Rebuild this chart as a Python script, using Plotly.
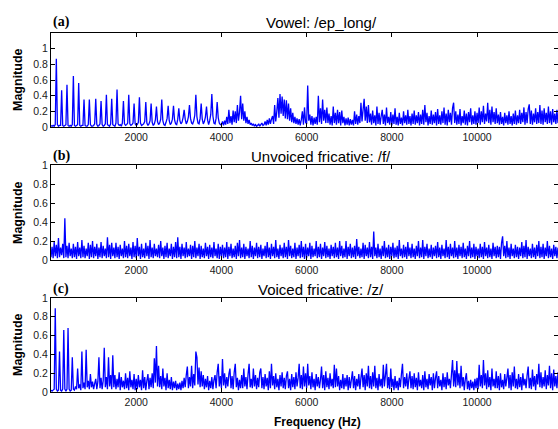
import plotly.graph_objects as go

# Magnitude spectra sampled every 25 Hz from 0 to 11900 Hz
FREQ_STEP_HZ = 25

vowel_ep_long = [
    0.02, 0.01, 0.02, 0.01, 0.03, 0.87, 0.03, 0.01, 0.02, 0.02, 0.47, 0.02, 0.01, 0.02, 0.03, 0.54, 0.02, 0.01, 0.02, 0.01,
    0.03, 0.65, 0.02, 0.01, 0.02, 0.03, 0.56, 0.02, 0.01, 0.02, 0.02, 0.35, 0.02, 0.01, 0.01, 0.03, 0.35, 0.03, 0.01, 0.01,
    0.02, 0.04, 0.36, 0.03, 0.01, 0.02, 0.04, 0.33, 0.03, 0.01, 0.02, 0.04, 0.41, 0.03, 0.02, 0.01, 0.04, 0.36, 0.03, 0.02,
    0.01, 0.05, 0.48, 0.04, 0.02, 0.03, 0.01, 0.05, 0.33, 0.04, 0.02, 0.03, 0.05, 0.41, 0.04, 0.02, 0.03, 0.05, 0.30, 0.04,
    0.02, 0.03, 0.06, 0.38, 0.05, 0.02, 0.03, 0.04, 0.07, 0.32, 0.05, 0.02, 0.04, 0.08, 0.30, 0.06, 0.02, 0.04, 0.09, 0.26,
    0.07, 0.03, 0.05, 0.10, 0.35, 0.08, 0.03, 0.02, 0.06, 0.11, 0.27, 0.08, 0.03, 0.05, 0.10, 0.27, 0.09, 0.04, 0.03, 0.10,
    0.24, 0.08, 0.04, 0.06, 0.12, 0.22, 0.10, 0.04, 0.07, 0.13, 0.28, 0.11, 0.05, 0.04, 0.08, 0.15, 0.41, 0.13, 0.05, 0.04,
    0.11, 0.30, 0.10, 0.04, 0.07, 0.13, 0.26, 0.09, 0.03, 0.08, 0.16, 0.42, 0.14, 0.05, 0.04, 0.11, 0.32, 0.12, 0.05, 0.03,
    0.03, 0.07, 0.02, 0.08, 0.03, 0.13, 0.04, 0.22, 0.05, 0.14, 0.03, 0.21, 0.06, 0.20, 0.05, 0.28, 0.08, 0.19, 0.40, 0.10,
    0.30, 0.08, 0.20, 0.05, 0.13, 0.04, 0.09, 0.03, 0.05, 0.02, 0.04, 0.01, 0.03, 0.01, 0.02, 0.04, 0.01, 0.03, 0.05, 0.02,
    0.03, 0.07, 0.02, 0.09, 0.03, 0.11, 0.04, 0.10, 0.14, 0.04, 0.28, 0.07, 0.20, 0.37, 0.12, 0.42, 0.17, 0.39, 0.14, 0.35,
    0.11, 0.34, 0.10, 0.30, 0.08, 0.24, 0.06, 0.18, 0.05, 0.13, 0.04, 0.11, 0.03, 0.10, 0.02, 0.09, 0.20, 0.03, 0.25, 0.06,
    0.04, 0.53, 0.08, 0.16, 0.03, 0.14, 0.02, 0.12, 0.04, 0.13, 0.03, 0.40, 0.06, 0.24, 0.04, 0.35, 0.08, 0.22, 0.05, 0.25,
    0.05, 0.17, 0.03, 0.14, 0.02, 0.26, 0.05, 0.18, 0.03, 0.22, 0.05, 0.19, 0.02, 0.21, 0.05, 0.13, 0.02, 0.11, 0.03, 0.12,
    0.02, 0.10, 0.03, 0.09, 0.02, 0.20, 0.04, 0.16, 0.03, 0.14, 0.05, 0.31, 0.07, 0.22, 0.36, 0.08, 0.26, 0.05, 0.28, 0.06,
    0.17, 0.03, 0.21, 0.05, 0.15, 0.02, 0.26, 0.04, 0.18, 0.03, 0.14, 0.22, 0.04, 0.16, 0.02, 0.25, 0.05, 0.13, 0.03, 0.19,
    0.02, 0.16, 0.04, 0.24, 0.03, 0.13, 0.02, 0.18, 0.04, 0.12, 0.02, 0.20, 0.05, 0.15, 0.03, 0.22, 0.04, 0.14, 0.02, 0.17,
    0.04, 0.21, 0.03, 0.15, 0.05, 0.19, 0.02, 0.16, 0.04, 0.22, 0.03, 0.28, 0.06, 0.18, 0.02, 0.14, 0.04, 0.21, 0.03, 0.16,
    0.05, 0.19, 0.02, 0.23, 0.04, 0.15, 0.03, 0.20, 0.05, 0.25, 0.03, 0.17, 0.02, 0.22, 0.06, 0.18, 0.03, 0.24, 0.31, 0.05,
    0.20, 0.03, 0.16, 0.04, 0.23, 0.02, 0.14, 0.05, 0.21, 0.03, 0.17, 0.02, 0.19, 0.06, 0.24, 0.03, 0.15, 0.04, 0.20, 0.03,
    0.18, 0.05, 0.25, 0.03, 0.20, 0.06, 0.27, 0.04, 0.17, 0.07, 0.31, 0.05, 0.22, 0.03, 0.26, 0.06, 0.19, 0.04, 0.24, 0.05,
    0.16, 0.03, 0.19, 0.04, 0.13, 0.02, 0.18, 0.05, 0.15, 0.03, 0.20, 0.04, 0.14, 0.02, 0.17, 0.04, 0.21, 0.03, 0.15, 0.05,
    0.22, 0.04, 0.18, 0.06, 0.25, 0.03, 0.19, 0.05, 0.23, 0.29, 0.04, 0.21, 0.03, 0.17, 0.06, 0.24, 0.04, 0.19, 0.05, 0.28,
    0.04, 0.21, 0.03, 0.24, 0.06, 0.18, 0.04, 0.26, 0.05, 0.20, 0.03, 0.23, 0.06, 0.17, 0.04, 0.22, 0.05,
]

unvoiced_f = [
    0.03, 0.14, 0.02, 0.19, 0.04, 0.16, 0.02, 0.23, 0.03, 0.13, 0.05, 0.17, 0.02, 0.44, 0.03, 0.15, 0.02, 0.18, 0.04, 0.12,
    0.02, 0.17, 0.03, 0.14, 0.01, 0.19, 0.04, 0.13, 0.02, 0.21, 0.03, 0.15, 0.02, 0.12, 0.04, 0.18, 0.01, 0.16, 0.03, 0.20,
    0.02, 0.14, 0.04, 0.17, 0.01, 0.13, 0.03, 0.19, 0.02, 0.15, 0.04, 0.12, 0.02, 0.24, 0.03, 0.16, 0.01, 0.18, 0.04, 0.13,
    0.02, 0.18, 0.03, 0.14, 0.01, 0.16, 0.04, 0.12, 0.02, 0.20, 0.03, 0.15, 0.02, 0.17, 0.04, 0.13, 0.01, 0.19, 0.03, 0.15,
    0.02, 0.23, 0.04, 0.14, 0.01, 0.17, 0.03, 0.12, 0.02, 0.18, 0.04, 0.15, 0.01, 0.21, 0.03, 0.13, 0.02, 0.17, 0.04, 0.12,
    0.03, 0.16, 0.02, 0.20, 0.04, 0.13, 0.01, 0.15, 0.03, 0.18, 0.02, 0.12, 0.04, 0.17, 0.01, 0.14, 0.03, 0.19, 0.02, 0.24,
    0.03, 0.14, 0.01, 0.17, 0.04, 0.13, 0.02, 0.19, 0.03, 0.12, 0.04, 0.16, 0.01, 0.15, 0.03, 0.20, 0.02, 0.13, 0.04, 0.17,
    0.01, 0.15, 0.03, 0.12, 0.02, 0.18, 0.04, 0.14, 0.01, 0.16, 0.03, 0.13, 0.02, 0.19, 0.04, 0.12, 0.02, 0.17, 0.01, 0.14,
    0.04, 0.16, 0.02, 0.13, 0.03, 0.19, 0.01, 0.14, 0.04, 0.17, 0.02, 0.12, 0.03, 0.15, 0.01, 0.18, 0.04, 0.21, 0.02, 0.13,
    0.03, 0.17, 0.01, 0.14, 0.04, 0.12, 0.02, 0.20, 0.03, 0.15, 0.01, 0.13, 0.04, 0.18, 0.02, 0.14, 0.03, 0.16, 0.01, 0.12,
    0.04, 0.15, 0.02, 0.19, 0.03, 0.13, 0.01, 0.17, 0.04, 0.14, 0.02, 0.21, 0.03, 0.12, 0.01, 0.16, 0.04, 0.13, 0.02, 0.18,
    0.03, 0.14, 0.01, 0.21, 0.04, 0.15, 0.02, 0.12, 0.03, 0.18, 0.01, 0.13, 0.04, 0.16, 0.02, 0.20, 0.03, 0.14, 0.01, 0.17,
    0.02, 0.13, 0.04, 0.18, 0.01, 0.15, 0.03, 0.12, 0.04, 0.20, 0.02, 0.14, 0.03, 0.17, 0.01, 0.13, 0.04, 0.19, 0.02, 0.15,
    0.03, 0.12, 0.01, 0.16, 0.04, 0.14, 0.02, 0.18, 0.03, 0.13, 0.01, 0.20, 0.04, 0.15, 0.02, 0.12, 0.03, 0.20, 0.01, 0.14,
    0.04, 0.17, 0.02, 0.13, 0.03, 0.15, 0.01, 0.22, 0.04, 0.14, 0.02, 0.12, 0.03, 0.18, 0.01, 0.16, 0.04, 0.13, 0.02, 0.19,
    0.03, 0.14, 0.01, 0.30, 0.04, 0.13, 0.02, 0.17, 0.03, 0.12, 0.01, 0.15, 0.04, 0.20, 0.02, 0.13, 0.03, 0.16, 0.01, 0.14,
    0.04, 0.18, 0.02, 0.13, 0.03, 0.15, 0.01, 0.21, 0.04, 0.12, 0.02, 0.16, 0.03, 0.14, 0.01, 0.19, 0.04, 0.13, 0.02, 0.17,
    0.03, 0.12, 0.01, 0.15, 0.04, 0.20, 0.02, 0.13, 0.03, 0.21, 0.01, 0.14, 0.04, 0.17, 0.02, 0.12, 0.03, 0.16, 0.01, 0.13,
    0.04, 0.15, 0.02, 0.19, 0.03, 0.13, 0.01, 0.16, 0.04, 0.12, 0.02, 0.21, 0.03, 0.14, 0.01, 0.17, 0.04, 0.13, 0.02, 0.20,
    0.03, 0.13, 0.01, 0.16, 0.04, 0.14, 0.02, 0.18, 0.03, 0.12, 0.01, 0.15, 0.04, 0.20, 0.02, 0.13, 0.03, 0.17, 0.01, 0.14,
    0.04, 0.12, 0.02, 0.17, 0.03, 0.14, 0.01, 0.19, 0.04, 0.13, 0.02, 0.16, 0.03, 0.12, 0.01, 0.18, 0.04, 0.14, 0.02, 0.15,
    0.03, 0.14, 0.01, 0.18, 0.25, 0.04, 0.15, 0.02, 0.20, 0.03, 0.13, 0.01, 0.17, 0.04, 0.12, 0.02, 0.16, 0.03, 0.14, 0.01,
    0.13, 0.04, 0.19, 0.02, 0.15, 0.03, 0.21, 0.01, 0.14, 0.04, 0.12, 0.02, 0.17, 0.03, 0.13, 0.01, 0.16, 0.04, 0.20, 0.02,
    0.14, 0.03, 0.17, 0.01, 0.13, 0.04, 0.20, 0.02, 0.15, 0.03, 0.12, 0.01, 0.16, 0.04, 0.14, 0.02, 0.13,
]

voiced_z = [
    0.02, 0.01, 0.02, 0.03, 0.89, 0.03, 0.01, 0.02, 0.43, 0.02, 0.01, 0.03, 0.66, 0.03, 0.01, 0.03, 0.68, 0.03, 0.01, 0.02,
    0.37, 0.03, 0.02, 0.06, 0.03, 0.25, 0.04, 0.08, 0.02, 0.43, 0.04, 0.10, 0.03, 0.45, 0.05, 0.12, 0.03, 0.19, 0.05, 0.11,
    0.03, 0.09, 0.14, 0.03, 0.11, 0.37, 0.04, 0.15, 0.03, 0.12, 0.47, 0.05, 0.16, 0.03, 0.37, 0.06, 0.18, 0.03, 0.39, 0.05,
    0.18, 0.03, 0.14, 0.05, 0.21, 0.02, 0.16, 0.05, 0.12, 0.03, 0.20, 0.04, 0.15, 0.02, 0.22, 0.05, 0.13, 0.03, 0.19, 0.02,
    0.14, 0.03, 0.18, 0.05, 0.13, 0.02, 0.23, 0.04, 0.16, 0.02, 0.12, 0.19, 0.03, 0.15, 0.05, 0.20, 0.04, 0.36, 0.10, 0.49,
    0.06, 0.28, 0.05, 0.17, 0.03, 0.25, 0.06, 0.15, 0.02, 0.20, 0.04, 0.13, 0.03, 0.16, 0.02, 0.11, 0.04, 0.12, 0.02, 0.09,
    0.03, 0.10, 0.02, 0.12, 0.04, 0.15, 0.05, 0.18, 0.27, 0.04, 0.16, 0.06, 0.28, 0.04, 0.19, 0.07, 0.43, 0.37, 0.08, 0.26,
    0.05, 0.22, 0.06, 0.18, 0.03, 0.14, 0.05, 0.17, 0.02, 0.12, 0.04, 0.16, 0.03, 0.13, 0.18, 0.04, 0.21, 0.30, 0.06, 0.17,
    0.04, 0.35, 0.07, 0.20, 0.04, 0.16, 0.06, 0.19, 0.25, 0.04, 0.17, 0.03, 0.21, 0.30, 0.05, 0.15, 0.02, 0.13, 0.04, 0.18,
    0.04, 0.25, 0.06, 0.16, 0.03, 0.19, 0.30, 0.05, 0.14, 0.04, 0.25, 0.06, 0.18, 0.03, 0.15, 0.05, 0.21, 0.25, 0.04, 0.16,
    0.03, 0.19, 0.06, 0.15, 0.02, 0.22, 0.04, 0.30, 0.07, 0.17, 0.03, 0.20, 0.05, 0.14, 0.02, 0.18, 0.06, 0.21, 0.04, 0.15,
    0.03, 0.17, 0.22, 0.04, 0.14, 0.02, 0.19, 0.05, 0.16, 0.03, 0.21, 0.06, 0.15, 0.30, 0.04, 0.18, 0.03, 0.27, 0.06, 0.20,
    0.04, 0.30, 0.07, 0.17, 0.03, 0.21, 0.05, 0.14, 0.02, 0.19, 0.06, 0.16, 0.04, 0.13, 0.27, 0.04, 0.18, 0.02, 0.22, 0.05,
    0.15, 0.03, 0.20, 0.06, 0.14, 0.04, 0.29, 0.05, 0.25, 0.06, 0.17, 0.02, 0.13, 0.04, 0.19, 0.03, 0.15, 0.06, 0.18, 0.02,
    0.16, 0.04, 0.13, 0.22, 0.04, 0.17, 0.02, 0.14, 0.06, 0.19, 0.03, 0.15, 0.25, 0.05, 0.18, 0.02, 0.20, 0.06, 0.28, 0.04,
    0.17, 0.03, 0.21, 0.06, 0.28, 0.04, 0.15, 0.02, 0.19, 0.06, 0.14, 0.04, 0.29, 0.06, 0.18, 0.30, 0.04, 0.16, 0.03, 0.25,
    0.05, 0.14, 0.02, 0.17, 0.04, 0.12, 0.02, 0.15, 0.05, 0.19, 0.30, 0.04, 0.16, 0.06, 0.20, 0.03, 0.14, 0.22, 0.04, 0.17,
    0.03, 0.20, 0.05, 0.15, 0.02, 0.21, 0.06, 0.13, 0.04, 0.18, 0.02, 0.22, 0.05, 0.14, 0.03, 0.19, 0.07, 0.16, 0.02, 0.20,
    0.04, 0.15, 0.22, 0.04, 0.17, 0.06, 0.13, 0.02, 0.20, 0.05, 0.16, 0.03, 0.21, 0.07, 0.14, 0.04, 0.19, 0.34, 0.06, 0.23,
    0.05, 0.33, 0.07, 0.20, 0.04, 0.28, 0.06, 0.16, 0.02, 0.14, 0.20, 0.03, 0.12, 0.02, 0.13, 0.04, 0.11, 0.02, 0.14, 0.04,
    0.15, 0.03, 0.29, 0.06, 0.18, 0.04, 0.34, 0.07, 0.20, 0.03, 0.23, 0.05, 0.16, 0.02, 0.25, 0.06, 0.14, 0.04, 0.22, 0.04,
    0.17, 0.02, 0.20, 0.05, 0.13, 0.03, 0.19, 0.06, 0.15, 0.25, 0.04, 0.18, 0.02, 0.21, 0.06, 0.27, 0.04, 0.14, 0.03, 0.19,
    0.05, 0.16, 0.02, 0.20, 0.07, 0.14, 0.04, 0.18, 0.27, 0.04, 0.15, 0.03, 0.24, 0.06, 0.17, 0.02, 0.19, 0.08, 0.30, 0.05,
    0.21, 0.04, 0.16, 0.06, 0.23, 0.03, 0.18, 0.07, 0.28, 0.04, 0.20, 0.02, 0.24, 0.06, 0.17, 0.04, 0.21,
]

panel_tags = ["(a)", "(b)", "(c)"]
panel_titles = ["Vowel: /ep_long/", "Unvoiced fricative: /f/", "Voiced fricative: /z/"]
panel_series = [vowel_ep_long, unvoiced_f, voiced_z]
panel_ymax = [1.2, 1.0, 1.0]

x_tick_vals = [2000, 4000, 6000, 8000, 10000]
y_tick_vals = [0, 0.2, 0.4, 0.6, 0.8, 1]
x_max_hz = 11900

W, H = 558, 429
LEFT, RIGHT = 51, 558
# (top, bottom) pixel rows of each panel's plotting box
panel_rows = [(33, 127), (165, 260), (298, 392)]
title_rows = [22, 156, 289]
ylabel_rows = [80, 213, 345]


def px_x(p):
    return p / W


def px_y(p):
    return 1 - p / H


SANS = "Liberation Sans, Arial, Helvetica, sans-serif"
SERIF = "Liberation Serif, Times New Roman, serif"
INK = "#1a1a1a"

fig = go.Figure()
annotations = []

for i, (mags, ymax) in enumerate(zip(panel_series, panel_ymax)):
    n = i + 1
    xa = "x" if n == 1 else f"x{n}"
    ya = "y" if n == 1 else f"y{n}"
    freqs = [k * FREQ_STEP_HZ for k in range(len(mags))]
    fig.add_trace(go.Scatter(
        x=freqs, y=mags, mode="lines",
        line=dict(color="#0000ff", width=1.3, simplify=False),
        xaxis=xa, yaxis=ya, showlegend=False, hoverinfo="skip",
    ))
    top, bottom = panel_rows[i]
    axis_common = dict(
        showline=True, linecolor="black", linewidth=1.2, mirror="ticks",
        ticks="inside", ticklen=4, tickwidth=1, tickcolor="black",
        showgrid=False, zeroline=False,
        tickfont=dict(family=SANS, size=10.5, color=INK),
        automargin=False,
    )
    fig.layout[("xaxis" if n == 1 else f"xaxis{n}")] = dict(
        domain=[px_x(LEFT), px_x(RIGHT)], range=[0, x_max_hz],
        anchor=ya, tickvals=x_tick_vals, ticktext=[str(v) for v in x_tick_vals],
        **axis_common,
    )
    fig.layout[("yaxis" if n == 1 else f"yaxis{n}")] = dict(
        domain=[px_y(bottom), px_y(top)], range=[0, ymax],
        anchor=xa, tickvals=y_tick_vals, ticktext=["0", "0.2", "0.4", "0.6", "0.8", "1"],
        **axis_common,
    )

    annotations.append(dict(
        text=f"<b>{panel_tags[i]}</b>", x=px_x(LEFT), y=px_y(title_rows[i]),
        xref="paper", yref="paper", xanchor="left", yanchor="middle",
        showarrow=False, font=dict(family=SERIF, size=14, color="black"),
    ))
    annotations.append(dict(
        text=panel_titles[i], x=px_x(321), y=px_y(title_rows[i]),
        xref="paper", yref="paper", xanchor="center", yanchor="middle",
        showarrow=False, font=dict(family=SANS, size=15, color="black"),
    ))
    annotations.append(dict(
        text="<b>Magnitude</b>", x=px_x(18), y=px_y(ylabel_rows[i]),
        xref="paper", yref="paper", xanchor="center", yanchor="middle",
        textangle=-90, showarrow=False, font=dict(family=SANS, size=12.5, color="black"),
    ))

annotations.append(dict(
    text="<b>Frequency (Hz)</b>", x=px_x(317), y=px_y(422),
    xref="paper", yref="paper", xanchor="center", yanchor="middle",
    showarrow=False, font=dict(family=SANS, size=12, color="black"),
))

fig.update_layout(
    width=W, height=H,
    margin=dict(l=0, r=0, t=0, b=0),
    paper_bgcolor="white", plot_bgcolor="white",
    annotations=annotations,
    showlegend=False,
)

fig.write_html("out.html")
